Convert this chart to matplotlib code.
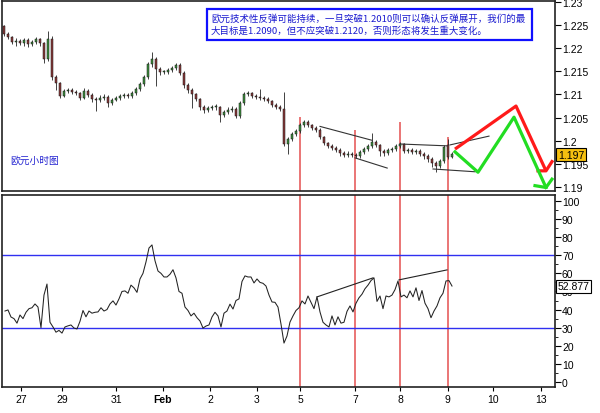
import numpy as np
import matplotlib.pyplot as plt
from matplotlib.patches import Rectangle

plt.rcParams['font.family'] = ['Liberation Sans', 'DejaVu Sans']

# hourly EUR/USD candles
opens = [1.2248, 1.2231, 1.2224, 1.2214, 1.2216, 1.2211, 1.2218, 1.2209, 1.2214, 1.2220,
         1.2211, 1.2177, 1.2220, 1.2138, 1.2125, 1.2097, 1.2108, 1.2110, 1.2106, 1.2103,
         1.2093, 1.2108, 1.2099, 1.2090, 1.2088, 1.2093, 1.2095, 1.2082, 1.2088, 1.2093,
         1.2097, 1.2099, 1.2097, 1.2103, 1.2112, 1.2123, 1.2138, 1.2166, 1.2177, 1.2155,
         1.2149, 1.2149, 1.2153, 1.2157, 1.2164, 1.2147, 1.2121, 1.2110, 1.2101, 1.2090,
         1.2073, 1.2067, 1.2071, 1.2073, 1.2073, 1.2056, 1.2062, 1.2067, 1.2069, 1.2054,
         1.2082, 1.2101, 1.2103, 1.2097, 1.2095, 1.2093, 1.2090, 1.2086, 1.2078, 1.2073,
         1.2069, 1.1993, 1.2004, 1.2015, 1.2021, 1.2034, 1.2041, 1.2034, 1.2028, 1.2024,
         1.2008, 1.1995, 1.1989, 1.1985, 1.1980, 1.1974, 1.1970, 1.1972, 1.1970, 1.1967,
         1.1976, 1.1982, 1.1989, 1.1998, 1.1991, 1.1978, 1.1974, 1.1980, 1.1982, 1.1989,
         1.1993, 1.1978, 1.1980, 1.1976, 1.1978, 1.1972, 1.1967, 1.1961, 1.1952, 1.1946,
         1.1957, 1.1990, 1.1965]
closes = [1.2231, 1.2224, 1.2214, 1.2216, 1.2211, 1.2218, 1.2209, 1.2214, 1.2220, 1.2211,
          1.2177, 1.2220, 1.2138, 1.2125, 1.2097, 1.2108, 1.2110, 1.2106, 1.2103, 1.2093,
          1.2108, 1.2099, 1.2090, 1.2088, 1.2093, 1.2095, 1.2082, 1.2088, 1.2093, 1.2097,
          1.2099, 1.2097, 1.2103, 1.2112, 1.2123, 1.2138, 1.2166, 1.2177, 1.2155, 1.2149,
          1.2149, 1.2153, 1.2157, 1.2164, 1.2147, 1.2121, 1.2110, 1.2101, 1.2090, 1.2073,
          1.2067, 1.2071, 1.2073, 1.2073, 1.2056, 1.2062, 1.2067, 1.2069, 1.2054, 1.2082,
          1.2101, 1.2103, 1.2097, 1.2095, 1.2093, 1.2090, 1.2086, 1.2078, 1.2073, 1.2069,
          1.1993, 1.2004, 1.2015, 1.2021, 1.2034, 1.2041, 1.2034, 1.2028, 1.2024, 1.2008,
          1.1995, 1.1989, 1.1985, 1.1980, 1.1974, 1.1970, 1.1972, 1.1970, 1.1967, 1.1976,
          1.1982, 1.1989, 1.1998, 1.1991, 1.1978, 1.1974, 1.1980, 1.1982, 1.1989, 1.1993,
          1.1978, 1.1980, 1.1976, 1.1978, 1.1972, 1.1967, 1.1961, 1.1952, 1.1946, 1.1957,
          1.1987, 1.1965, 1.1972]
highs = [1.2251, 1.2234, 1.2227, 1.2221, 1.2220, 1.2222, 1.2221, 1.2218, 1.2224, 1.2223,
         1.2214, 1.2238, 1.2226, 1.2141, 1.2128, 1.2112, 1.2114, 1.2114, 1.2110, 1.2106,
         1.2113, 1.2111, 1.2103, 1.2094, 1.2098, 1.2100, 1.2098, 1.2092, 1.2097, 1.2101,
         1.2104, 1.2103, 1.2107, 1.2116, 1.2127, 1.2142, 1.2170, 1.2192, 1.2180, 1.2159,
         1.2153, 1.2157, 1.2161, 1.2168, 1.2167, 1.2150, 1.2124, 1.2113, 1.2104, 1.2093,
         1.2077, 1.2076, 1.2078, 1.2079, 1.2076, 1.2067, 1.2072, 1.2075, 1.2073, 1.2086,
         1.2105, 1.2107, 1.2106, 1.2101, 1.2112, 1.2097, 1.2094, 1.2089, 1.2082, 1.2077,
         1.2106, 1.2008, 1.2019, 1.2025, 1.2038, 1.2045, 1.2044, 1.2037, 1.2032, 1.2027,
         1.2011, 1.1998, 1.1993, 1.1989, 1.1984, 1.1978, 1.1977, 1.1976, 1.1974, 1.1980,
         1.1986, 1.1993, 1.2017, 1.2002, 1.1994, 1.1982, 1.1985, 1.1987, 1.1993, 1.1998,
         1.1996, 1.1985, 1.1984, 1.1983, 1.1982, 1.1976, 1.1971, 1.1964, 1.1956, 1.1961,
         1.1991, 1.2004, 1.1976]
lows = [1.2226, 1.2219, 1.2208, 1.2205, 1.2207, 1.2204, 1.2203, 1.2205, 1.2210, 1.2204,
        1.2168, 1.2172, 1.2132, 1.2110, 1.2092, 1.2094, 1.2103, 1.2101, 1.2098, 1.2089,
        1.2090, 1.2094, 1.2084, 1.2064, 1.2084, 1.2089, 1.2074, 1.2078, 1.2085, 1.2089,
        1.2093, 1.2092, 1.2093, 1.2099, 1.2108, 1.2119, 1.2134, 1.2160, 1.2118, 1.2143,
        1.2144, 1.2145, 1.2149, 1.2152, 1.2142, 1.2115, 1.2104, 1.2071, 1.2085, 1.2066,
        1.2061, 1.2063, 1.2066, 1.2067, 1.2041, 1.2052, 1.2058, 1.2062, 1.2049, 1.2050,
        1.2078, 1.2097, 1.2093, 1.2090, 1.2089, 1.2086, 1.2082, 1.2073, 1.2068, 1.2064,
        1.1988, 1.1971, 1.2000, 1.2010, 1.2017, 1.2030, 1.2029, 1.2023, 1.2019, 1.2003,
        1.1990, 1.1984, 1.1979, 1.1975, 1.1966, 1.1964, 1.1965, 1.1965, 1.1962, 1.1963,
        1.1972, 1.1978, 1.1985, 1.1986, 1.1966, 1.1968, 1.1970, 1.1976, 1.1978, 1.1985,
        1.1973, 1.1974, 1.1971, 1.1972, 1.1967, 1.1961, 1.1955, 1.1944, 1.1932, 1.1941,
        1.1953, 1.1961, 1.1962]

# RSI, sampled every 0.75 bar
rsi = [39.2, 39.8, 35.9, 35.0, 32.5, 37.0, 35.0, 38.5, 40.5, 41.0,
       43.1, 41.4, 30.0, 48.0, 54.1, 33.0, 30.4, 27.5, 28.5, 27.0,
       30.4, 31.0, 31.5, 29.8, 29.3, 33.5, 39.5, 36.0, 39.2, 38.0,
       38.5, 38.7, 41.0, 39.2, 40.0, 43.1, 44.8, 42.5, 45.9, 50.0,
       50.3, 49.0, 53.5, 52.0, 49.5, 56.9, 60.0, 66.3, 74.0, 75.7,
       67.0, 61.3, 60.0, 58.0, 58.0, 59.5, 62.0, 57.5, 50.0, 49.0,
       41.4, 39.5, 36.5, 38.0, 35.5, 33.7, 29.8, 30.9, 31.5, 35.9,
       38.5, 36.5, 30.4, 38.0, 39.2, 43.0, 40.3, 45.0, 45.9, 55.5,
       58.6, 58.0, 58.0, 54.7, 56.9, 55.0, 54.5, 53.0, 48.0, 44.2,
       44.0, 41.4, 32.0, 21.5, 25.4, 33.1, 36.5, 39.5, 41.0, 44.8,
       43.1, 47.5, 44.0, 40.5, 47.0, 38.7, 33.0, 31.5, 30.4, 36.5,
       31.5, 36.0, 32.5, 33.0, 39.0, 42.0, 38.7, 43.5, 46.5, 48.5,
       51.5, 53.5, 56.0, 57.5, 44.5, 47.5, 40.5, 47.5, 47.0, 48.0,
       51.0, 55.8, 47.0, 48.0, 46.5, 50.3, 47.0, 52.0, 45.0, 50.5,
       43.5, 40.5, 35.5, 39.2, 42.0, 46.5, 49.0, 55.8, 56.0, 53.0]

tick_labels = ['27', '29', '31', 'Feb', '2', '3', '5', '7', '8', '9', '10', '13']
tick_pos = [4.25, 14.5, 28, 39.75, 51.5, 63.25, 74, 87.75, 99.1, 110.9, 122.25, 134.25]
marker_days = [74, 87.75, 99.1, 110.9]
marker_tops = [1.2051, 1.2023, 1.2041, 1.2008]

price_ticks = [1.19, 1.195, 1.2, 1.205, 1.21, 1.215, 1.22, 1.225, 1.23]
rsi_ticks = [0, 10, 20, 30, 40, 50, 60, 70, 80, 90, 100]

# hand-drawn trend lines: (x0, y0, x1, y1)
price_lines = [(79, 1.2031, 92, 1.2001), (87.75, 1.1963, 95.8, 1.1941),
               (99, 1.1993, 110.75, 1.1989), (107.25, 1.1939, 117.75, 1.1933),
               (111.5, 1.1991, 121.25, 1.2010)]
rsi_lines = [(78.25, 47.0, 92.25, 57.5), (98.75, 56.4, 110.75, 61.9)]

# projected paths
red_x = [112.75, 128, 135.5]
red_y = [1.1982, 1.2075, 1.1935]
red_head_x = [133.5, 135.5, 137]
red_head_y = [1.1935, 1.1935, 1.1955]
green_x = [112.75, 118.5, 127.5, 135.5]
green_y = [1.1976, 1.1932, 1.2051, 1.1899]
green_head_x = [132.75, 135.5, 137]
green_head_y = [1.1903, 1.1899, 1.1917]

last_price = 1.197
last_rsi = 52.877

fig = plt.figure(figsize=(6, 4.14), dpi=100)
ax1 = fig.add_axes([0.0033, 0.5362, 0.9217, 0.459])
ax2 = fig.add_axes([0.0033, 0.0628, 0.9217, 0.4626])

xlim = (-0.5, 137.75)

# candles
x = np.arange(len(closes))
o = np.array(opens)
c = np.array(closes)
cols = np.where(c >= o, '#3f8f3f', '#8a3b3b')
ax1.vlines(x, lows, highs, color='#222222', lw=0.6, zorder=2)
ax1.bar(x, np.maximum(np.abs(c - o), 0.00012), bottom=np.minimum(o, c), width=0.7,
        color=cols, edgecolor='#111111', linewidth=0.35, zorder=3)

for x0, y0, x1, y1 in price_lines:
    ax1.plot([x0, x1], [y0, y1], color='#333333', lw=0.8, zorder=4)

ax1.set_ylim(1.18914, 1.2302)
ymin1 = ax1.get_ylim()[0]
ax1.vlines(marker_days, ymin1, marker_tops, color='#e86a6a', lw=1.3, zorder=1)

ax1.plot(red_x, red_y, color='#ff1a1a', lw=2.3, solid_capstyle='butt', zorder=5)
ax1.plot(red_head_x, red_head_y, color='#ff1a1a', lw=2.3, zorder=5)
ax1.plot(green_x, green_y, color='#22dd22', lw=2.3, zorder=5)
ax1.plot(green_head_x, green_head_y, color='#22dd22', lw=2.3, zorder=5)

ax1.set_xlim(*xlim)
ax1.yaxis.tick_right()
ax1.set_yticks(price_ticks)
ax1.set_yticklabels([f'{v:g}' for v in price_ticks])
ax1.tick_params(axis='y', direction='out', length=4, pad=1, labelsize=7.5, width=0.8)
ax1.tick_params(axis='x', length=0, labelbottom=False)

ax1.text(1.005, last_price, f'{last_price:g}', transform=ax1.get_yaxis_transform(),
         va='center', ha='left', fontsize=7.5, zorder=10,
         bbox=dict(boxstyle='square,pad=0.15', fc='#f5c010', ec='black', lw=0.8))

ax1.text(1.5, 1.1958, '欧元小时图', color='#2020d0', fontsize=7,
         family=['Noto Sans CJK SC', 'DejaVu Sans'], va='center', ha='left')

# comment box
fig.patches.append(Rectangle((207 / 600, 1 - 41 / 414), 325 / 600, 31 / 414,
                             transform=fig.transFigure, fill=True, fc='white',
                             ec='#1010ff', lw=1.6, zorder=10))
fig.text(211 / 600, 1 - 19 / 414,
         '欧元技术性反弹可能持续，一旦突破1.2010则可以确认反弹展开，我们的最',
         color='#1a1ad0', fontsize=6.8, family=['Noto Sans CJK SC', 'DejaVu Sans'],
         va='center', ha='left', zorder=11)
fig.text(211 / 600, 1 - 31 / 414,
         '大目标是1.2090，但不应突破1.2120，否则形态将发生重大变化。',
         color='#1a1ad0', fontsize=6.8, family=['Noto Sans CJK SC', 'DejaVu Sans'],
         va='center', ha='left', zorder=11)

# RSI panel
rsi_x = (np.arange(len(rsi)) * 3 + 1) / 4
ax2.plot(rsi_x, rsi, color='#222222', lw=0.75, zorder=3)
ax2.axhline(70, color='#3030f0', lw=1.0, zorder=2)
ax2.axhline(30, color='#3030f0', lw=1.0, zorder=2)
ax2.vlines(marker_days, -5, 110, color='#e86a6a', lw=1.3, zorder=1)
for x0, y0, x1, y1 in rsi_lines:
    ax2.plot([x0, x1], [y0, y1], color='#222222', lw=0.8, zorder=4)

ax2.set_ylim(-2.76, 103)
ax2.set_xlim(*xlim)
ax2.yaxis.tick_right()
ax2.set_yticks(rsi_ticks)
ax2.set_yticks(np.array(rsi_ticks[:-1]) + 5, minor=True)
ax2.tick_params(axis='y', which='major', direction='out', length=4, pad=1, labelsize=7.5, width=0.8)
ax2.tick_params(axis='y', which='minor', direction='out', length=2, width=0.6)
ax2.set_xticks(tick_pos)
ax2.set_xticklabels(tick_labels)
ax2.tick_params(axis='x', direction='out', length=3, pad=2, labelsize=7.5, width=0.8)
for lab in ax2.get_xticklabels():
    if lab.get_text() == 'Feb':
        lab.set_fontweight('bold')

ax2.text(1.005, last_rsi, f'{last_rsi:g}', transform=ax2.get_yaxis_transform(),
         va='center', ha='left', fontsize=7.5, zorder=10,
         bbox=dict(boxstyle='square,pad=0.15', fc='white', ec='black', lw=0.8))

for ax in (ax1, ax2):
    for s in ax.spines.values():
        s.set_color('#222222')
        s.set_linewidth(1.2)

fig.savefig('out.png', dpi=100)
